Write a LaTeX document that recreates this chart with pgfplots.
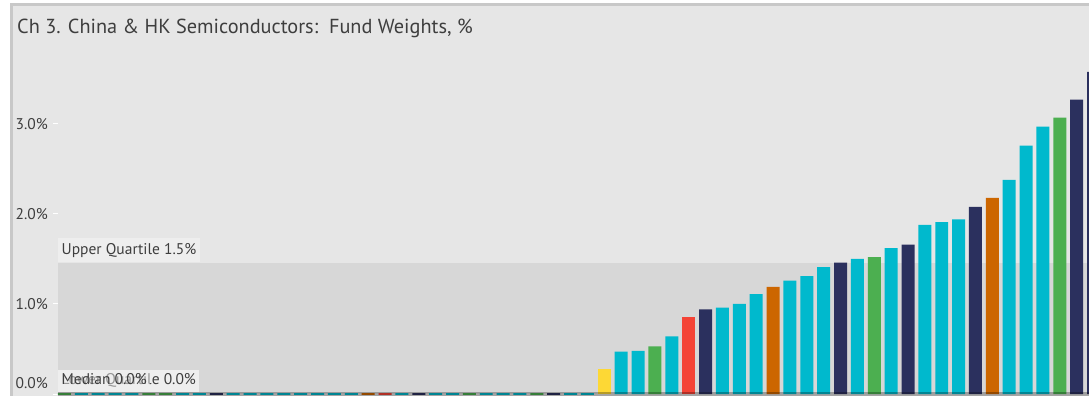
\documentclass[border=0pt]{standalone}
\usepackage{fontspec}
\setmainfont{PT Sans}
\usepackage{pgfplots}
\pgfplotsset{compat=1.18}
\definecolor{cCyan}{RGB}{0,185,205}
\definecolor{cNavy}{RGB}{43,48,94}
\definecolor{cGreen}{RGB}{76,175,80}
\definecolor{cOrange}{RGB}{204,102,0}
\definecolor{cRed}{RGB}{244,67,54}
\definecolor{cYellow}{RGB}{253,216,53}
\definecolor{panel}{RGB}{230,230,230}
\definecolor{band}{RGB}{215,215,215}
\definecolor{border}{RGB}{200,200,200}
\definecolor{lbl}{RGB}{238,238,238}
\definecolor{txt}{RGB}{62,62,62}
\begin{document}
\begin{tikzpicture}[x=1pt,y=1pt]
\path[use as bounding box] (0,0) rectangle (1089,396);
\fill[white] (0,0) rectangle (1089,396);
\fill[panel] (10,0) rectangle (1089,393);
\fill[border] (10,389.5) rectangle (1089,393);
\fill[border] (10,0) rectangle (13,393);
\node[anchor=west, text=txt, font=\fontsize{20.3}{24}\selectfont, inner sep=0pt] at (17,368) {Ch 3. China \& HK Semiconductors:\ \ Fund Weights, \%};
\begin{axis}[
  at={(58pt,0pt)}, anchor=south west,
  scale only axis, width=1031pt, height=389pt,
  xmin=0.615, xmax=61.73, ymin=-0.0222, ymax=4.3,
  axis line style={draw=none},
  xtick=\empty,
  ytick={0,1,2,3},
  yticklabels={\raisebox{22pt}{0.0\%},1.0\%,2.0\%,3.0\%},
  ytick pos=left,
  tick align=outside,
  major tick length=5pt,
  every tick/.style={white, line width=1pt},
  yticklabel style={font=\fontsize{15.5}{18}\selectfont, text=txt, inner sep=0pt, xshift=-5pt},
  ybar, bar width=0.77, bar shift=0pt,
  clip=true,
]
\fill[band] (axis cs:0.615,0) rectangle (axis cs:61.73,1.46);
% zero-weight funds
\addplot[fill=cCyan, draw=cCyan, line width=1.5pt] coordinates {(2,0)(3,0)(4,0)(5,0)(8,0)(9,0)(11,0)(12,0)(13,0)(14,0)(15,0)(16,0)(17,0)(18,0)(21,0)(23,0)(24,0)(26,0)(27,0)(28,0)(31,0)(32,0)};
\addplot[fill=cGreen, draw=cGreen, line width=1.5pt] coordinates {(1,0)(6,0)(7,0)(25,0)(29,0)};
\addplot[fill=cNavy, draw=cNavy, line width=1.5pt] coordinates {(10,0)(22,0)(30,0)};
\addplot[fill=cOrange, draw=cOrange, line width=1.5pt] coordinates {(19,0)};
\addplot[fill=cRed, draw=cRed, line width=1.5pt] coordinates {(20,0)};
% non-zero
\addplot[fill=cYellow, draw=none] coordinates {(33,0.28)};
\addplot[fill=cCyan, draw=none] coordinates {(34,0.47)(35,0.48)(37,0.64)(40,0.96)(41,1.00)(42,1.11)(44,1.26)(45,1.31)(46,1.41)(48,1.50)(50,1.62)(52,1.88)(53,1.91)(54,1.94)(57,2.38)(58,2.76)(59,2.97)};
\addplot[fill=cGreen, draw=none] coordinates {(36,0.53)(49,1.52)(60,3.07)};
\addplot[fill=cRed, draw=none] coordinates {(38,0.86)};
\addplot[fill=cNavy, draw=none] coordinates {(39,0.94)(47,1.46)(51,1.66)(55,2.08)(61,3.27)(62,3.58)};
\addplot[fill=cOrange, draw=none] coordinates {(43,1.19)(56,2.18)};
\fill[black, opacity=0.28] (axis cs:0.615,-0.0222) rectangle (axis cs:61.73,0.017);
\node[anchor=south west, fill=lbl, text=txt, font=\fontsize{15.5}{18}\selectfont, inner xsep=3.5pt, inner ysep=0pt, minimum height=24pt, text height=11pt, text depth=3pt] at (axis cs:0.615,1.46) {Upper Quartile 1.5\%};
\node[anchor=south west, fill=lbl, text=txt, font=\fontsize{15.5}{18}\selectfont, inner xsep=3.5pt, inner ysep=0pt, minimum height=22pt, text height=11pt, text depth=3pt, yshift=2pt] at (axis cs:0.615,0) {Lower Quartile 0.0\%};
\node[anchor=south west, fill=lbl, fill opacity=0.5, text opacity=1, text=txt, font=\fontsize{15.5}{18}\selectfont, inner xsep=3.5pt, inner ysep=0pt, minimum height=22pt, text height=11pt, text depth=3pt, yshift=2pt] at (axis cs:0.615,0) {Median 0.0\%};
\end{axis}
\end{tikzpicture}
\end{document}
